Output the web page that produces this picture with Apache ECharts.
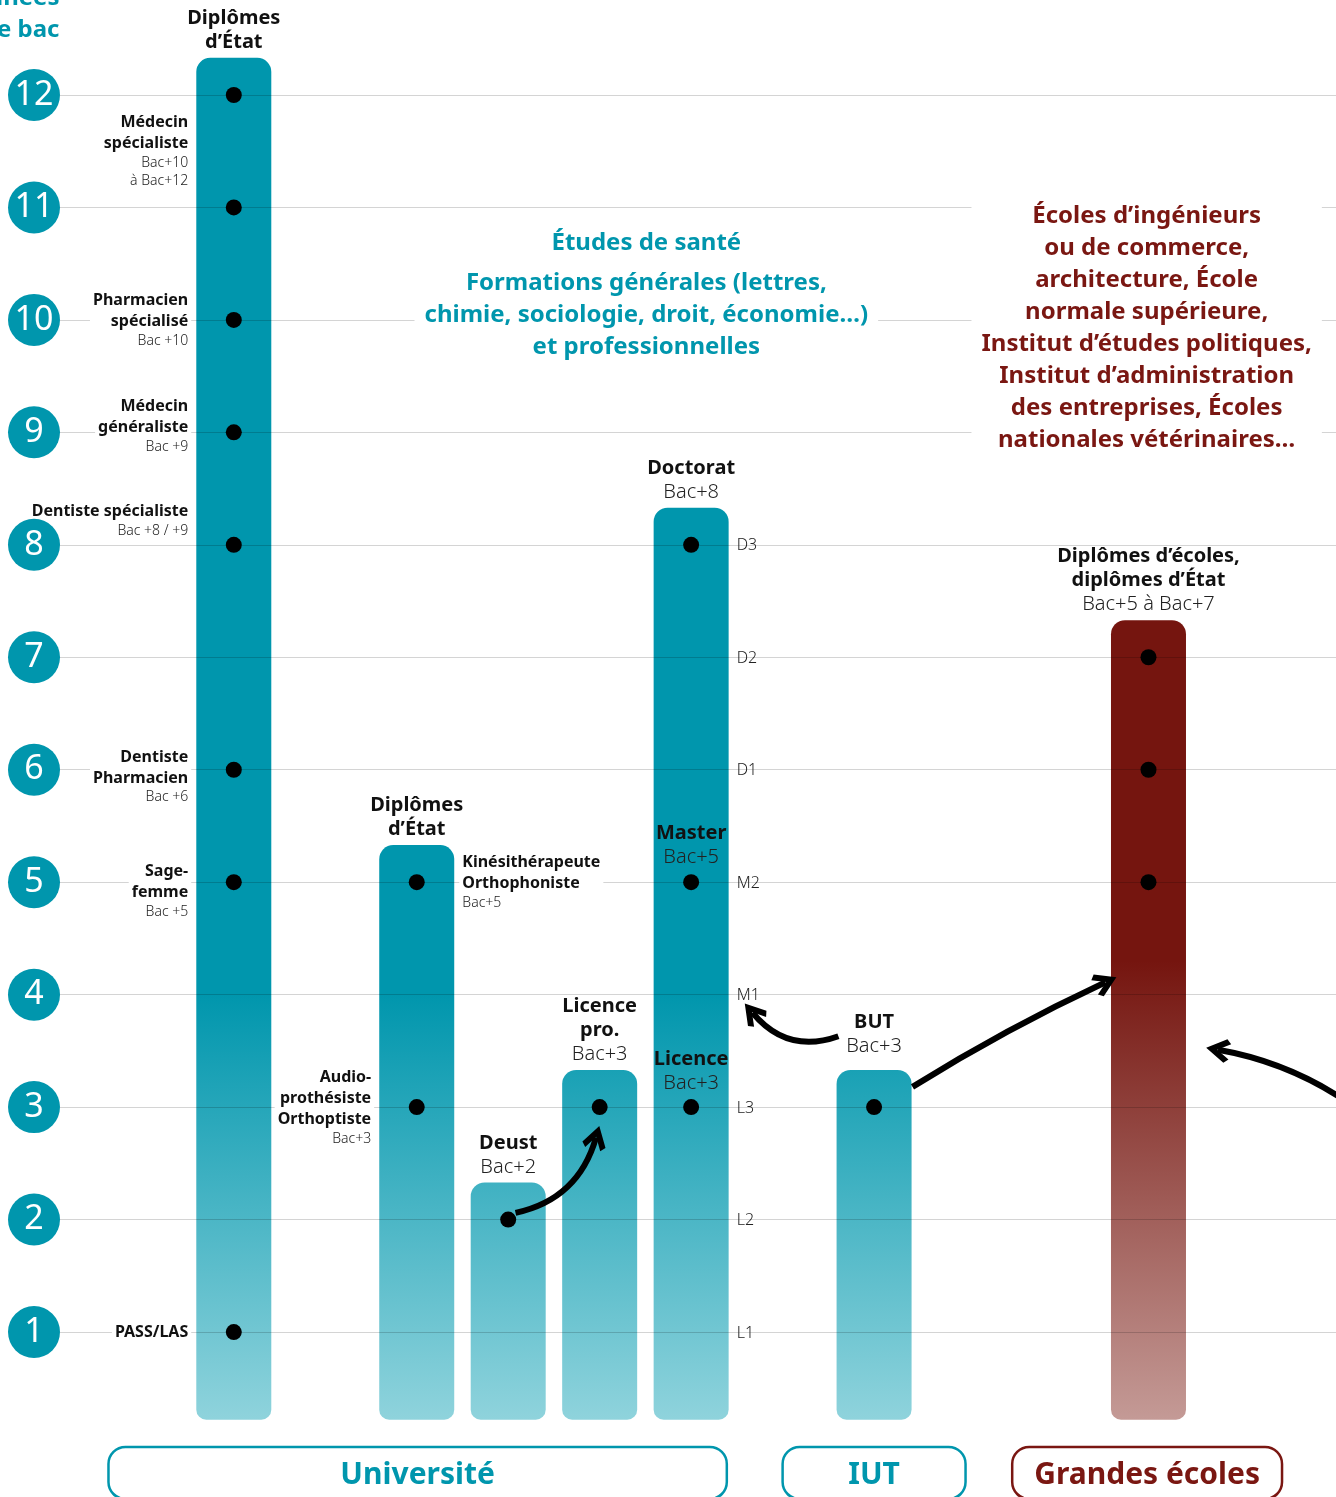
<!DOCTYPE html>
<html>
<head>
<meta charset="utf-8">
<script src="https://cdn.jsdelivr.net/npm/echarts@6/dist/echarts.min.js"></script>
<style>
html, body { margin: 0; padding: 0; background: #fff; }
#chart { width: 1336px; height: 1497px; }
</style>
</head>
<body>
<div id="chart"></div>
<script>
// years after the bac (y axis)
const years = [1, 2, 3, 4, 5, 6, 7, 8, 9, 10, 11, 12];

// columns: slot on the x axis, top of the column (in years), dots (diploma years)
const barSlots = [0, 2, 3, 4, 5, 7, 10];
const barTops = [12.33, 5.33, 2.33, 3.33, 8.33, 3.33, 7.33];
const barBase = 0.22;
const barGroup = [0, 0, 0, 0, 0, 1, 2];
const barTitles = ['Diplômes\nd’État', 'Diplômes\nd’État', 'Deust', 'Licence\npro.', 'Doctorat', 'BUT', 'Diplômes d’écoles,\ndiplômes d’État'];
const barLevels = ['', '', 'Bac+2', 'Bac+3', 'Bac+8', 'Bac+3', 'Bac+5 à Bac+7'];
const barDots = [[1, 5, 6, 8, 9, 10, 11, 12], [3, 5], [2], [3], [3, 5, 8], [3], [5, 6, 7]];

// health diplomas (left of first column)
const healthJobs = ['Médecin\nspécialiste', 'Pharmacien\nspécialisé', 'Médecin\ngénéraliste', 'Dentiste spécialiste', 'Dentiste\nPharmacien', 'Sage-\nfemme', 'PASS/LAS'];
const healthLevels = ['Bac+10\nà Bac+12', 'Bac +10', 'Bac +9', 'Bac +8 / +9', 'Bac +6', 'Bac +5', ''];
const healthYears = [11.5, 10, 9.06, 8.22, 5.94, 4.92, 1];

// paramedical diplomas (around second column)
const paramedJobs = ['Audio-\nprothésiste\nOrthoptiste', 'Kinésithérapeute\nOrthophoniste'];
const paramedLevels = ['Bac+3', 'Bac+5'];
const paramedYears = [3, 5];

// LMD steps
const lmdLabels = ['L1', 'L2', 'L3', 'M1', 'M2', 'D1', 'D2', 'D3'];
const lmdDegrees = ['Licence', 'Master'];
const lmdDegreeLevels = ['Bac+3', 'Bac+5'];
const lmdDegreeYears = [3.32, 5.33];

// headings
const axisTitle = 'Années\naprès le bac';
const healthTitle = 'Études de santé';
const uniTitle = 'Formations générales (lettres,\nchimie, sociologie, droit, économie…)\net professionnelles';
const schoolTitle = 'Écoles d’ingénieurs\nou de commerce,\narchitecture, École\nnormale supérieure,\nInstitut d’études politiques,\nInstitut d’administration\ndes entreprises, Écoles\nnationales vétérinaires…';

// groups at the bottom
const groups = ['Université', 'IUT', 'Grandes écoles'];
const groupSpans = [[-1.37, 5.39], [6.0, 8.0], [8.51, 11.46]];

// arrows (from, to) in slot / year units
const arrows = [
    [[3.08, 2.06], [3.96, 2.73]],
    [[6.61, 3.63], [5.67, 3.84]],
    [[7.42, 3.18], [9.53, 4.11]],
    [[12.09, 3.09], [10.76, 3.51]]
];
const arrowCurves = [-0.3, 0.35, 0.03, -0.1];

const FONT = '"Noto Sans", sans-serif';
const TEAL = '#0096ad', TEAL_LIGHT = '#8fd3dc';
const RED = '#75150f', RED_LIGHT = '#c49a96', RED_TEXT = '#7a1712';
const groupColors = [TEAL, TEAL, RED_TEXT];
const sideGap = 0.46;
const BAR_W = 75;

function mix(c1, c2, t) {
    const a = parseInt(c1.slice(1), 16), b = parseInt(c2.slice(1), 16);
    const ch = s => Math.round(((a >> s) & 255) * (1 - t) + ((b >> s) & 255) * t);
    return 'rgb(' + ch(16) + ',' + ch(8) + ',' + ch(0) + ')';
}

function barFill(top, dark, light, fadeFrom) {
    if (top <= fadeFrom) {
        return new echarts.graphic.LinearGradient(0, 0, 0, 1, [
            {offset: 0, color: mix(dark, light, (fadeFrom - top) / (fadeFrom - barBase))},
            {offset: 1, color: light}
        ]);
    }
    const f = (top - fadeFrom) / (top - barBase);
    return new echarts.graphic.LinearGradient(0, 0, 0, 1, [
        {offset: 0, color: dark},
        {offset: f, color: dark},
        {offset: 1, color: light}
    ]);
}

function rich(text, style) {
    return text.split('\n').map(l => '{' + style + '|' + l + '}').join('\n');
}

function jobText(name, level) {
    let t = rich(name, 'job');
    if (level) t += '\n' + rich(level, 'lvl');
    return t;
}

const richStyles = {
    job: {fontFamily: FONT, fontWeight: 'bold', fontSize: 16, lineHeight: 21, color: '#111'},
    lvl: {fontFamily: FONT, fontWeight: 300, fontSize: 14, lineHeight: 18, color: '#222'},
    ttl: {fontFamily: FONT, fontWeight: 'bold', fontSize: 20, lineHeight: 24, color: '#111'},
    sub: {fontFamily: FONT, fontWeight: 300, fontSize: 20, lineHeight: 24, color: '#222'},
    lmd: {fontFamily: FONT, fontWeight: 300, fontSize: 16, color: '#222'},
    teal: {fontFamily: FONT, fontWeight: 'bold', fontSize: 24, lineHeight: 32, color: TEAL},
    red: {fontFamily: FONT, fontWeight: 'bold', fontSize: 24, lineHeight: 32, color: RED_TEXT}
};

// label anchors
const labelItems = [];
healthJobs.forEach((name, i) => {
    labelItems.push({
        value: [barSlots[0] - sideGap, healthYears[i]],
        label: {
            position: 'left', formatter: jobText(name, healthLevels[i]),
            backgroundColor: healthLevels[i].indexOf('/') < 0 ? '#fff' : 'transparent', padding: [0, 3]
        }
    });
});
paramedJobs.forEach((name, i) => {
    labelItems.push({
        value: [barSlots[1] + (i === 0 ? -sideGap : sideGap), paramedYears[i]],
        label: {
            position: i === 0 ? 'left' : 'right', formatter: jobText(name, paramedLevels[i]),
            backgroundColor: '#fff', padding: [0, 3]
        }
    });
});
lmdLabels.forEach((t, i) => {
    labelItems.push({
        value: [barSlots[4] + sideGap, i + 1],
        label: {position: 'right', formatter: rich(t, 'lmd'), padding: [2, 0, 0, 3]}
    });
});
lmdDegrees.forEach((t, i) => {
    labelItems.push({
        value: [barSlots[4], lmdDegreeYears[i]],
        label: {position: 'inside', formatter: rich(t, 'ttl') + '\n' + rich(lmdDegreeLevels[i], 'sub')}
    });
});
barSlots.forEach((s, i) => {
    labelItems.push({
        value: [s, barTops[i]],
        label: {
            position: 'top', distance: i === 5 ? 11 : 3,
            formatter: rich(barTitles[i], 'ttl') + (barLevels[i] ? '\n' + rich(barLevels[i], 'sub') : '')
        }
    });
});
labelItems.push({
    value: [-1.9, 12.72],
    label: {position: 'left', formatter: rich(axisTitle, 'teal')}
});
labelItems.push({
    value: [4.51, 10.68],
    label: {position: 'inside', formatter: rich(healthTitle, 'teal'), backgroundColor: '#fff', padding: [0, 10]}
});
labelItems.push({
    value: [4.51, 10.045],
    label: {position: 'inside', formatter: rich(uniTitle, 'teal'), backgroundColor: '#fff', padding: [0, 10]}
});
labelItems.push({
    value: [9.98, 9.93],
    label: {position: 'inside', formatter: rich(schoolTitle, 'red'), backgroundColor: '#fff', padding: [0, 10]}
});

const dotData = [];
barDots.forEach((list, i) => list.forEach(y => dotData.push([barSlots[i], y])));

const chart = echarts.init(document.getElementById('chart'), null, {renderer: 'canvas'});

const option = {
    animation: false,
    backgroundColor: '#fff',
    textStyle: {fontFamily: FONT},
    grid: {left: 60, right: 0, top: 5, bottom: 52.5},
    xAxis: {
        type: 'value', min: -1.9, max: 12.05, show: false
    },
    yAxis: {
        type: 'value', min: 0, max: 12.8, interval: 1,
        axisLine: {show: false}, axisTick: {show: false},
        splitLine: {show: false},
        axisLabel: {
            margin: 0,
            showMinLabel: false, showMaxLabel: false,
            formatter: v => (Number.isInteger(v) && v >= 1) ? '{c|' + v + '}' : '',
            rich: {
                c: {
                    width: 52, height: 52, lineHeight: 52, borderRadius: 26,
                    backgroundColor: TEAL, color: '#fff', fontSize: 34,
                    fontFamily: FONT, align: 'center'
                }
            }
        }
    },
    series: [
        {
            // columns
            type: 'custom', z: 2, silent: true,
            data: barSlots.map((s, i) => [s, barBase, barTops[i], i]),
            renderItem: (params, api) => {
                const i = api.value(3);
                const top = api.coord([api.value(0), api.value(2)]);
                const bottom = api.coord([api.value(0), api.value(1)]);
                return {
                    type: 'rect',
                    shape: {x: top[0] - BAR_W / 2, y: top[1], width: BAR_W, height: bottom[1] - top[1], r: [14, 14, 10, 10]},
                    style: {
                        fill: barGroup[i] === 2
                            ? barFill(barTops[i], RED, RED_LIGHT, 4.3)
                            : barFill(barTops[i], TEAL, TEAL_LIGHT, 4.0)
                    }
                };
            }
        },
        {
            type: 'line', data: [], z: 3, silent: true,
            markLine: {
                silent: true, symbol: ['none', 'none'], label: {show: false},
                lineStyle: {color: 'rgba(0,0,0,0.17)', width: 1.2, type: 'solid'},
                data: years.map(y => ({yAxis: y}))
            }
        },
        {
            type: 'lines', coordinateSystem: 'cartesian2d', z: 4, silent: true, clip: false,
            symbol: ['none', 'path://M10,0 L20,13 L16.5,16 L10,7.5 L3.5,16 L0,13 Z'],
            symbolSize: [30, 24],
            data: arrows.map((a, i) => ({
                coords: a,
                lineStyle: {color: '#000', width: 6, opacity: 1, curveness: arrowCurves[i]}
            }))
        },
        {
            type: 'scatter', z: 5, silent: true, symbolSize: 16,
            itemStyle: {color: '#000', opacity: 1},
            data: dotData
        },
        {
            type: 'scatter', z: 6, silent: true, clip: false, symbolSize: 1,
            itemStyle: {color: 'rgba(0,0,0,0)', opacity: 1},
            label: {show: true, distance: 0, rich: richStyles},
            data: labelItems
        },
        {
            type: 'custom', z: 6, silent: true,
            data: groupSpans.map((g, i) => [g[0], g[1], i]),
            renderItem: (params, api) => {
                const p0 = api.coord([api.value(0), -0.022]);
                const p1 = api.coord([api.value(1), -0.022]);
                const i = api.value(2);
                return {
                    type: 'group',
                    children: [
                        {
                            type: 'rect',
                            shape: {x: p0[0], y: p0[1], width: p1[0] - p0[0], height: 52, r: 17},
                            style: {fill: '#fff', stroke: groupColors[i], lineWidth: 2.5}
                        },
                        {
                            type: 'text',
                            style: {
                                text: groups[i], x: (p0[0] + p1[0]) / 2, y: p0[1] + 28,
                                align: 'center', verticalAlign: 'middle',
                                fontFamily: FONT, fontWeight: 'bold', fontSize: 30,
                                fill: groupColors[i]
                            }
                        }
                    ]
                };
            }
        }
    ]
};

chart.setOption(option);
</script>
</body>
</html>
